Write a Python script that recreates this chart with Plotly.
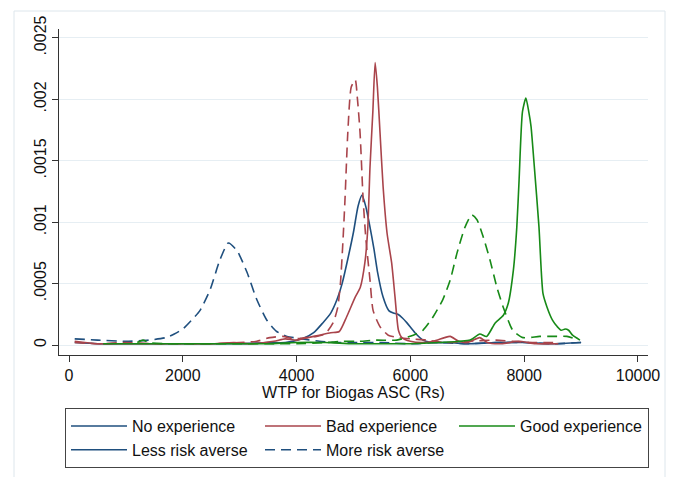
import plotly.graph_objects as go

# ---- data (kernel density of WTP for Biogas ASC) ----
x_noexp_less = [100, 500, 1000, 1500, 2000, 2500, 3000, 3500, 3800, 4100, 4300, 4460, 4600, 4710, 4800,
                4900, 5000, 5080, 5150, 5220, 5290, 5360, 5420, 5520, 5620, 5700, 5780, 5860, 5940,
                6080, 6220, 6400, 6700, 7000, 7500, 8000, 8500, 9000]
y_noexp_less = [.00002, .00001, .00001, .00001, .00001, .00001, .00001, .00002, .00002, .00005, .0001, .00018,
                .00026, .00037, .0005, .0007, .00092, .00113, .00122, .00112, .00096, .00078, .0006, .00039,
                .00028, .00026, .00025, .00022, .00018, .0001, .00004, .00002, .00002, .00001, .00002,
                .00002, .00001, .00002]

x_noexp_more = [100, 500, 1000, 1400, 1700, 1850, 2000, 2150, 2300, 2480, 2650, 2800, 2950, 3130, 3300,
                3480, 3650, 3830, 4100, 4400, 4700, 5000, 5500, 6000, 6500, 7000, 7500, 8000, 8500, 9000]
y_noexp_more = [.00005, .00004, .00003, .00004, .00006, .00009, .00013, .0002, .00028, .00045, .00069, .00083,
                .00077, .00059, .00037, .0002, .00011, .00007, .00005, .00003, .00002, .00002, .00002,
                .00001, .00002, .00001, .00002, .00002, .00001, .00002]

x_bad_less = [100, 500, 1000, 1500, 2000, 2500, 2900, 3200, 3600, 3800, 4000, 4200, 4400, 4600, 4750, 4880,
              5030, 5120, 5200, 5250, 5290, 5340, 5380, 5420, 5466, 5520, 5590, 5670, 5730, 5790, 5850,
              6000, 6200, 6400, 6600, 6700, 6850, 7000, 7220, 7350, 7600, 7900, 8200, 8600]
y_bad_less = [.00003, .00001, .00001, .00001, .00001, .00001, .00002, .00001, .00003, .00005, .00004, .00006,
              .00008, .0001, .00011, .00023, .00039, .00047, .00067, .00094, .00145, .0019, .0023, .0021,
              .00173, .00129, .00091, .00067, .00039, .00012, .00006, .00003, .00002, .00003, .00006,
              .00007, .00003, .00002, .00006, .00002, .00001, .00003, .00001, .00001]

x_bad_more = [100, 500, 1000, 1500, 2000, 2500, 3000, 3300, 3530, 3760, 3950, 4150, 4350, 4500, 4640,
              4720, 4770, 4815, 4850, 4900, 4960, 5030, 5070, 5115, 5170, 5220, 5290, 5345, 5465, 5610,
              5800, 6000, 6300, 6600, 7000, 7500, 7800, 8200, 8600]
y_bad_more = [.00002, .00001, .00002, .00001, .00001, .00001, .00002, .00003, .00006, .00007, .00005, .00006,
              .00007, .00009, .00018, .0003, .0005, .00085, .00118, .00173, .0021, .00216, .002, .00173,
              .00118, .00085, .00053, .00028, .00015, .00008, .00006, .00005, .00004, .00002, .00003,
              .00004, .00003, .00002, .00002]

x_good_less = [600, 1000, 1500, 2000, 2500, 3000, 3500, 4000, 4500, 5000, 5500, 6000, 6500, 7050, 7220,
               7340, 7490, 7630, 7720, 7810, 7870, 7910, 7970, 8030, 8080, 8120, 8170, 8260, 8330, 8400,
               8500, 8580, 8650, 8720, 8780, 8850, 8980]
y_good_less = [.00001, .00001, .00001, .00001, .00001, .00001, .00001, .00002, .00002, .00001, .00001,
               .00001, .00002, .00004, .00009, .00007, .00018, .00024, .00034, .00061, .00096, .00134,
               .0019, .00201, .0019, .00178, .0015, .00096, .00042, .00031, .0002, .00015, .00012, .00013,
               .00012, .00008, .00004]

x_good_more = [1200, 1300, 1400, 1700, 2000, 2500, 3000, 3500, 4000, 4500, 4800, 5100, 5400, 5760, 6050,
               6220, 6400, 6570, 6700, 6820, 6960, 7080, 7170, 7280, 7400, 7520, 7630, 7800, 7980, 8270,
               8500, 8750, 8900]
y_good_more = [.00002, .00004, .00002, .00001, .00001, .00001, .00001, .00001, .00001, .00002, .00003,
               .00003, .00004, .00004, .00008, .00012, .00023, .00037, .00053, .00075, .00096, .00106,
               .00102, .00088, .00069, .00047, .00031, .00012, .00006, .00007, .00007, .00007, .00005]

x_ticks = [0, 2000, 4000, 6000, 8000, 10000]
y_ticks = [0, 0.0005, 0.001, 0.0015, 0.002, 0.0025]
y_tick_labels = ["0", ".0005", ".001", ".0015", ".002", ".0025"]

legend_names = ["No experience", "Bad experience", "Good experience", "Less risk averse", "More risk averse"]

BLUE = "#1f4f7e"
RED = "#a9444b"
GREEN = "#178a17"
DASH = "10px,6px"
FONT = "Liberation Sans, Arial, sans-serif"

fig = go.Figure()

series = [
    ("No experience, less risk averse", x_noexp_less, y_noexp_less, BLUE, "solid"),
    ("No experience, more risk averse", x_noexp_more, y_noexp_more, BLUE, DASH),
    ("Bad experience, less risk averse", x_bad_less, y_bad_less, RED, "solid"),
    ("Bad experience, more risk averse", x_bad_more, y_bad_more, RED, DASH),
    ("Good experience, less risk averse", x_good_less, y_good_less, GREEN, "solid"),
    ("Good experience, more risk averse", x_good_more, y_good_more, GREEN, DASH),
]
for name, xs, ys, col, dash in series:
    fig.add_trace(go.Scatter(x=xs, y=ys, mode="lines", name=name, showlegend=False,
                             line=dict(color=col, width=1.6, dash=dash, shape="spline", smoothing=0.6)))

legend_styles = [(BLUE, "solid"), (RED, "solid"), (GREEN, "solid"), (BLUE, "solid"), (BLUE, DASH)]
for nm, (col, dash) in zip(legend_names, legend_styles):
    fig.add_trace(go.Scatter(x=[None], y=[None], mode="lines", name=nm, showlegend=True,
                             line=dict(color=col, width=1.5, dash=dash)))

W, H = 673, 477
L, R, T, B = 59, 648, 29, 355
pw, ph = R - L, B - T

fig.update_layout(
    width=W, height=H,
    margin=dict(l=L, r=W - R, t=T, b=H - B, pad=0, autoexpand=False),
    paper_bgcolor="white", plot_bgcolor="white",
    font=dict(family=FONT, size=16, color="#111111"),
    showlegend=True,
    legend=dict(orientation="h", x=(65 - L) / pw, xanchor="left", y=(B - 408) / ph, yanchor="top",
                bordercolor="#444444", borderwidth=1, bgcolor="white",
                font=dict(family=FONT, size=16, color="#111111"),
                itemwidth=56, entrywidth=123, tracegroupgap=0, traceorder="normal"),
    shapes=[dict(type="rect", xref="paper", yref="paper",
                 x0=(14 - L) / pw, x1=(665 - L) / pw, y0=(B - 490) / ph, y1=(B - 11) / ph,
                 line=dict(color="#dde6ec", width=1), fillcolor="rgba(0,0,0,0)", layer="below")],
)

fig.update_xaxes(range=[-176, 10176], tickvals=x_ticks, ticktext=[str(v) for v in x_ticks],
                 automargin=False,
                 showgrid=False, zeroline=False, showline=True, linecolor="#333333", linewidth=1,
                 ticks="outside", ticklen=6, tickcolor="#333333",
                 tickfont=dict(size=16, color="#111111"),
                 title=dict(text="WTP for Biogas ASC (Rs)", font=dict(size=16, color="#111111"), standoff=2))
fig.update_yaxes(range=[-0.0000814, 0.002573], tickvals=y_ticks, ticktext=y_tick_labels, tickangle=-90,
                 automargin=False,
                 showgrid=True, gridcolor="#e6eef3", gridwidth=1, zeroline=False,
                 showline=True, linecolor="#333333", linewidth=1,
                 ticks="outside", ticklen=6, tickcolor="#333333",
                 tickfont=dict(size=16, color="#111111"))

fig.write_html("out.html", config={"displayModeBar": False},
               post_script="document.body.style.margin='0px';")
